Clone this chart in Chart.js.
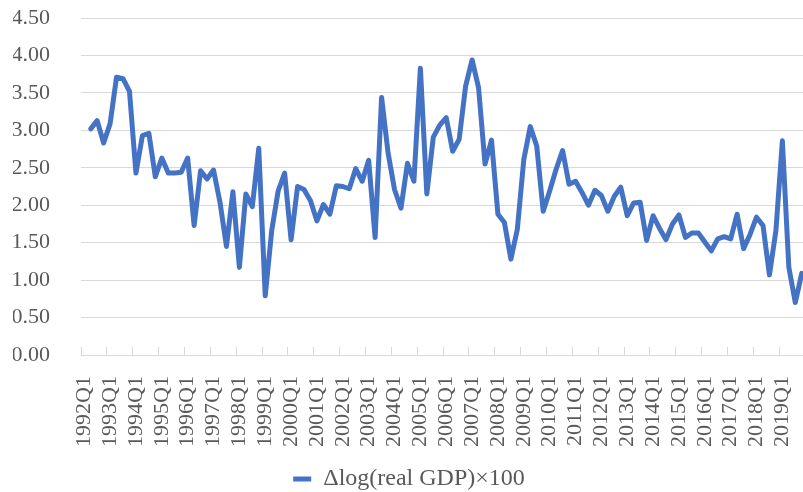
<!DOCTYPE html>
<html>
<head>
<meta charset="utf-8">
<script src="https://cdn.jsdelivr.net/npm/chart.js"></script>
<style>
  html, body { margin: 0; padding: 0; background: #fff; overflow: hidden; }
  .wrap { position: relative; width: 805px; height: 501px; }
</style>
</head>
<body>
<div class="wrap"><canvas id="chart"></canvas></div>
<script>
const years = [1992, 1993, 1994, 1995, 1996, 1997, 1998, 1999, 2000, 2001, 2002, 2003, 2004, 2005,
               2006, 2007, 2008, 2009, 2010, 2011, 2012, 2013, 2014, 2015, 2016, 2017, 2018, 2019];
const quarters = ['Q1', 'Q2', 'Q3', 'Q4'];
const seriesName = 'Δlog(real GDP)×100';
// first quarter has no difference
const gdpGrowth = [
  null, 3.02, 3.13, 2.83,
  3.09, 3.71, 3.69, 3.52,
  2.43, 2.93, 2.96, 2.38,
  2.63, 2.43, 2.43, 2.44,
  2.63, 1.73, 2.46, 2.35,
  2.47, 2.04, 1.45, 2.18,
  1.17, 2.15, 1.98, 2.76,
  0.79, 1.66, 2.19, 2.43,
  1.54, 2.25, 2.21, 2.06,
  1.79, 2.01, 1.88, 2.26,
  2.25, 2.22, 2.49, 2.32,
  2.60, 1.57, 3.44, 2.70,
  2.21, 1.96, 2.56, 2.32,
  3.83, 2.15, 2.91, 3.07,
  3.17, 2.72, 2.88, 3.59,
  3.94, 3.57, 2.55, 2.87,
  1.88, 1.77, 1.28, 1.68,
  2.61, 3.05, 2.79, 1.92,
  2.19, 2.48, 2.73, 2.28,
  2.32, 2.17, 2.00, 2.20,
  2.13, 1.92, 2.12, 2.24,
  1.86, 2.03, 2.04, 1.53,
  1.86, 1.69, 1.54, 1.75,
  1.87, 1.57, 1.63, 1.63,
  1.51, 1.39, 1.55, 1.58,
  1.55, 1.88, 1.42, 1.61,
  1.84, 1.73, 1.07, 1.66,
  2.86, 1.17, 0.70, 1.09
];
const yMin = 0, yMax = 4.5, yStep = 0.5;

const labels = [];
years.forEach(y => quarters.forEach(q => labels.push(y + q)));

const textColor = '#595959';
const gridColor = '#d9d9d9';
const fontFamily = '"Liberation Serif", "DejaVu Serif", serif';

new Chart(document.getElementById('chart'), {
  type: 'line',
  data: {
    labels: labels,
    datasets: [{
      label: seriesName,
      data: gdpGrowth,
      borderColor: '#4472c4',
      backgroundColor: '#4472c4',
      borderWidth: 5,
      borderJoinStyle: 'round',
      borderCapStyle: 'round',
      pointRadius: 0,
      pointHoverRadius: 0,
      tension: 0,
      fill: false
    }]
  },
  options: {
    responsive: true,
    maintainAspectRatio: false,
    animation: false,
    layout: { padding: { top: 18, left: 13, right: 0, bottom: 0 } },
    plugins: {
      tooltip: { enabled: false },
      legend: {
        position: 'bottom',
        labels: {
          usePointStyle: true,
          pointStyle: 'line',
          pointStyleWidth: 18,
          padding: 2,
          color: textColor,
          font: { family: fontFamily, size: 24 }
        }
      }
    },
    scales: {
      x: {
        offset: true,
        grid: {
          offset: true,
          drawOnChartArea: false,
          drawTicks: true,
          tickLength: -8,
          color: ctx => (ctx.index % 4 === 0 ? gridColor : 'rgba(0,0,0,0)')
        },
        border: { display: true, color: gridColor, width: 1 },
        ticks: {
          autoSkip: false,
          minRotation: 90,
          maxRotation: 90,
          padding: 29,
          color: textColor,
          font: { family: fontFamily, size: 22 },
          callback: function (val, i) { return i % 4 === 0 ? this.getLabelForValue(val) : ''; }
        },
        afterFit: scale => {
          scale.height = 110;
          scale.paddingLeft = 0;
          scale.paddingRight = 0;
        }
      },
      y: {
        min: yMin,
        max: yMax,
        grid: { color: gridColor, drawTicks: false },
        border: { display: false },
        ticks: {
          stepSize: yStep,
          padding: 31,
          color: textColor,
          font: { family: fontFamily, size: 22 },
          callback: v => v.toFixed(2)
        },
        afterFit: scale => {
          scale.width = 68;
          scale.paddingTop = 0;
          scale.paddingBottom = 0;
        }
      }
    }
  }
});
</script>
</body>
</html>
